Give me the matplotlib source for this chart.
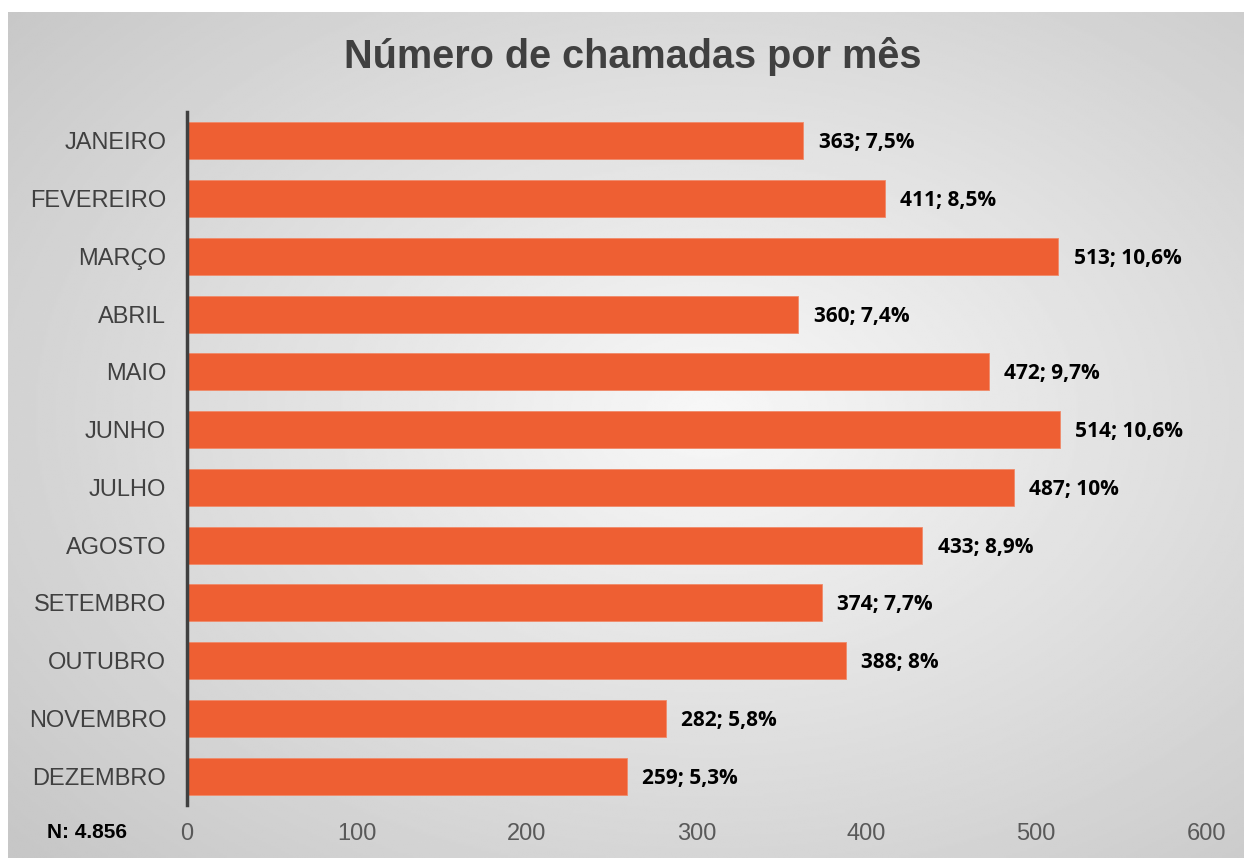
import matplotlib.pyplot as plt
import numpy as np

meses = ["JANEIRO", "FEVEREIRO", "MARÇO", "ABRIL", "MAIO", "JUNHO",
         "JULHO", "AGOSTO", "SETEMBRO", "OUTUBRO", "NOVEMBRO", "DEZEMBRO"]
chamadas = [363, 411, 513, 360, 472, 514, 487, 433, 374, 388, 282, 259]
percentuais = ["7,5%", "8,5%", "10,6%", "7,4%", "9,7%", "10,6%",
               "10%", "8,9%", "7,7%", "8%", "5,8%", "5,3%"]
total = "4.856"
xticks = [0, 100, 200, 300, 400, 500, 600]

fig = plt.figure(figsize=(12.44, 8.58), dpi=100)
fig.patch.set_facecolor("white")

# fundo com gradiente radial
bg = fig.add_axes([8 / 1244, 0, 1 - 8 / 1244, 1 - 12 / 858])
yy, xx = np.mgrid[0:400, 0:600]
d = np.sqrt(((xx - 340) / 600) ** 2 + ((yy - 190) / 400) ** 2)
d = np.clip(d / 0.75, 0, 1)
grad = 0.97 - 0.19 * d
bg.imshow(grad, cmap="gray", vmin=0, vmax=1, aspect="auto", extent=[0, 1, 0, 1])
bg.set_axis_off()

ax = fig.add_axes([187 / 1244, 1 - 805 / 858, (1206 - 187) / 1244, 693 / 858])
ax.patch.set_alpha(0)
y = np.arange(len(meses))
ax.barh(y, chamadas, height=0.64, color="#EE5F33", edgecolor="#F08A6A", linewidth=0.6)
for i, (v, p) in enumerate(zip(chamadas, percentuais)):
    ax.annotate(f"{v}; {p}", (v, i), xytext=(11, -1.5), textcoords="offset points",
                va="center", ha="left", fontsize=15, fontweight="bold",
                family="Open Sans", color="black")

ax.set_xlim(0, 600)
ax.set_ylim(11.5, -0.5)
ax.set_yticks(y)
ax.set_yticklabels(meses, fontsize=17, color="#404040", family="Liberation Sans")
ax.set_xticks(xticks)
ax.set_xticklabels([str(t) for t in xticks], fontsize=17, color="#595959",
                   family="Liberation Sans")
ax.tick_params(axis="y", length=0, pad=15)
ax.tick_params(axis="x", length=0, pad=13)
for s in ["top", "right", "bottom"]:
    ax.spines[s].set_visible(False)
ax.spines["left"].set_color("#404040")
ax.spines["left"].set_linewidth(2.5)

fig.text(633 / 1244, 1 - 57 / 858, "Número de chamadas por mês", ha="center", va="center",
         fontsize=28.5, fontweight="bold", color="#404040", family="Liberation Sans")
fig.text(87 / 1244, 1 - 832 / 858, f"N: {total}", ha="center", va="center",
         fontsize=15, fontweight="bold", color="black", family="Liberation Sans")

fig.savefig("out.png", dpi=100)
